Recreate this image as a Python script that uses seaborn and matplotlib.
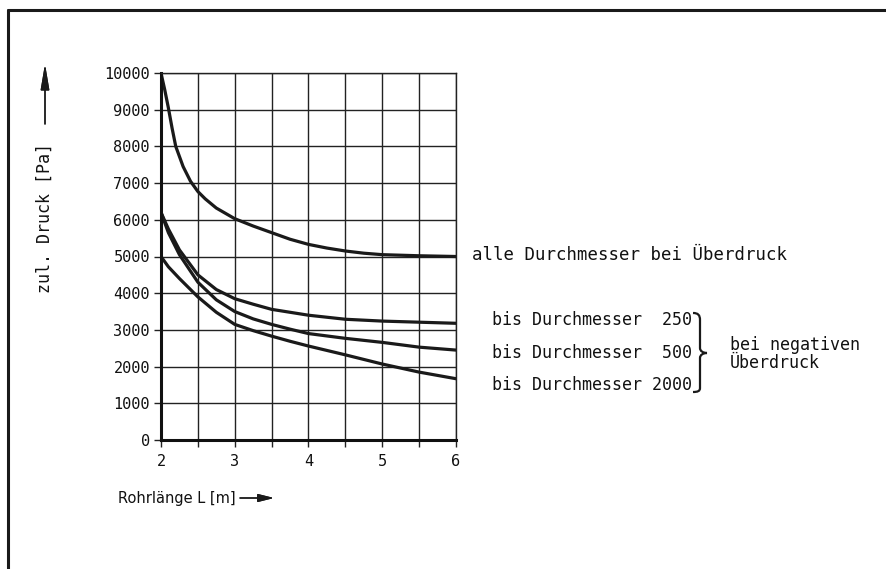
#!/usr/bin/env python3
"""
Zulässiger Druck über Rohrlänge – Nachbau des Diagramms
"""

import matplotlib
matplotlib.use('Agg')
import matplotlib.pyplot as plt
import numpy as np
import seaborn as sns
from matplotlib.lines import Line2D
from matplotlib.path import Path
from matplotlib.patches import PathPatch

# Daten
laenge_ueber = [2.0, 2.05, 2.1, 2.15, 2.2, 2.3, 2.4, 2.5, 2.6, 2.75, 3.0, 3.25,
                3.5, 3.75, 4.0, 4.25, 4.5, 4.75, 5.0, 5.5, 6.0]
druck_ueber = [10000, 9550, 9050, 8500, 8000, 7450, 7050, 6770, 6570, 6320, 6030, 5830,
               5650, 5470, 5330, 5230, 5150, 5090, 5050, 5020, 5000]

laenge_neg = [2.0, 2.1, 2.25, 2.5, 2.75, 3.0, 3.25, 3.5, 3.75, 4.0, 4.5, 5.0, 5.5, 6.0]
druck_250 = [6200, 5750, 5180, 4500, 4100, 3850, 3700, 3560, 3480, 3400, 3290, 3240, 3210, 3180]
druck_500 = [6200, 5650, 5050, 4300, 3820, 3500, 3300, 3150, 3020, 2900, 2770, 2660, 2530, 2450]
druck_2000 = [5000, 4720, 4400, 3900, 3480, 3150, 2980, 2830, 2690, 2560, 2320, 2070, 1850, 1670]

x_ticks = [2, 3, 4, 5, 6]
x_minor = [2.5, 3.5, 4.5, 5.5]
y_ticks = list(range(0, 10001, 1000))

label_ueber = 'alle Durchmesser bei Überdruck'
labels_neg = ['bis Durchmesser  250', 'bis Durchmesser  500', 'bis Durchmesser 2000']

sns.set_theme(style='white')
plt.rcParams['font.family'] = ['DejaVu Sans Mono', 'DejaVu Sans']
plt.rcParams['axes.unicode_minus'] = False

W, H = 887, 569
fig = plt.figure(figsize=(W / 100, H / 100), dpi=100)
fig.patch.set_facecolor('white')


def fx(px):
    return px / W


def fy(py):
    return 1 - py / H


ax = fig.add_axes([fx(161), fy(440), fx(456) - fx(161), fy(73) - fy(440)])
ax.set_facecolor('white')

for xs, ys in [(laenge_ueber, druck_ueber), (laenge_neg, druck_250),
               (laenge_neg, druck_500), (laenge_neg, druck_2000)]:
    sns.lineplot(x=xs, y=ys, ax=ax, color='#1a1a1a', lw=2.3, sort=False)

ax.set_xlim(2, 6)
ax.set_ylim(0, 10000)
ax.set_xticks(x_ticks)
ax.set_xticks(x_minor, minor=True)
ax.set_yticks(y_ticks)
ax.set_xticklabels([str(v) for v in x_ticks], fontsize=11)
ax.set_yticklabels([str(v) for v in y_ticks], fontsize=11)
ax.grid(True, which='both', axis='x', color='#222222', lw=1.0)
ax.grid(True, which='major', axis='y', color='#222222', lw=1.0)
ax.set_axisbelow(True)
ax.tick_params(axis='both', which='both', direction='out', length=5, width=1.0,
               color='#222222', pad=3, bottom=True, left=True, labelcolor='#111111')
ax.tick_params(axis='x', which='major', pad=5)

for side in ['top', 'right']:
    ax.spines[side].set_linewidth(1.0)
    ax.spines[side].set_color('#222222')
for side in ['bottom', 'left']:
    ax.spines[side].set_linewidth(2.2)
    ax.spines[side].set_color('#111111')

# Rahmen
fig.add_artist(Line2D([fx(8), 1], [fy(10), fy(10)], color='k', lw=2.2))
fig.add_artist(Line2D([fx(8), fx(8)], [fy(10), 0], color='k', lw=2.2))

# Achsenbeschriftungen mit Pfeilen
pfeil_y = dict(arrowstyle='-|>,head_length=1.3,head_width=0.22', color='k', lw=1.0,
               shrinkA=0, shrinkB=0)
pfeil_x = dict(arrowstyle='-|>,head_length=0.8,head_width=0.2', color='k', lw=1.0,
               shrinkA=0, shrinkB=0)
fig.text(fx(45), fy(218), 'zul. Druck [Pa]', rotation=90, ha='center', va='center',
         fontsize=12, color='#111111')
fig.add_artist(plt.annotate('', xy=(fx(45), fy(64)), xytext=(fx(45), fy(124)),
                            xycoords='figure fraction', textcoords='figure fraction',
                            arrowprops=pfeil_y))
fig.text(fx(236), fy(498), 'Rohrlänge L [m]', ha='right', va='center', fontsize=10.5,
         family='DejaVu Sans', color='#111111')
fig.add_artist(plt.annotate('', xy=(fx(274), fy(498)), xytext=(fx(240), fy(498)),
                            xycoords='figure fraction', textcoords='figure fraction',
                            arrowprops=pfeil_x))

# Kurvenbeschriftungen
fig.text(fx(472), fy(255), label_ueber, ha='left', va='center', fontsize=12.5,
         color='#111111')
for lab, py in zip(labels_neg, [320, 353, 385]):
    fig.text(fx(692), fy(py), lab, ha='right', va='center', fontsize=12, color='#111111')
fig.text(fx(730), fy(345), 'bei negativen', ha='left', va='center', fontsize=12,
         color='#111111')
fig.text(fx(730), fy(363), 'Überdruck', ha='left', va='center', fontsize=12,
         color='#111111')

# geschweifte Klammer
pts = [(693, 313), (698, 313), (700, 315), (700, 320),
       (700, 346), (700, 346), (700, 348),
       (700, 351), (703, 353), (707, 353),
       (703, 353), (700, 355), (700, 358),
       (700, 386), (700, 386), (700, 388),
       (700, 391), (698, 392), (693, 392)]
codes = [Path.MOVETO] + [Path.CURVE4] * (len(pts) - 1)
brace = Path([(fx(a), fy(b)) for a, b in pts], codes)
fig.add_artist(PathPatch(brace, facecolor='none', edgecolor='k', lw=1.6,
                         transform=fig.transFigure))

plt.savefig('out.png', dpi=100)
plt.close()
print("Diagramm gespeichert: out.png")
